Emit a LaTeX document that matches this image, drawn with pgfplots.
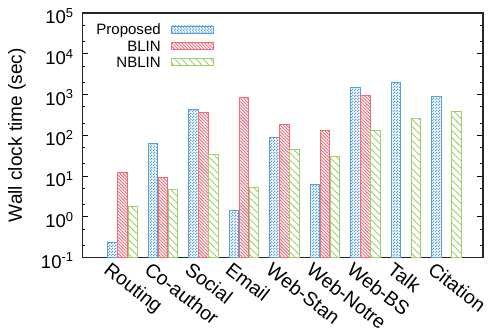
\documentclass[border=0pt]{standalone}
\usepackage{pgfplots}
\pgfplotsset{compat=1.18}
\usepackage{fontspec}
\setmainfont{Liberation Sans}
\usetikzlibrary{patterns,patterns.meta}

\definecolor{cProp}{RGB}{86,160,224}
\definecolor{cBlin}{RGB}{240,108,120}
\definecolor{cNblin}{RGB}{158,208,110}

% fine checkerboard used for the proposed method
\pgfdeclarepatternformonly{checker}{\pgfqpoint{0pt}{0pt}}{\pgfqpoint{3bp}{3bp}}{\pgfqpoint{3bp}{3bp}}{%
  \pgfpathrectangle{\pgfqpoint{0bp}{0bp}}{\pgfqpoint{1.5bp}{1.5bp}}%
  \pgfpathrectangle{\pgfqpoint{1.5bp}{1.5bp}}{\pgfqpoint{1.5bp}{1.5bp}}%
  \pgfusepath{fill}}

\begin{document}
\begin{tikzpicture}
\begin{axis}[
  width=400bp, height=244bp, scale only axis,
  ymode=log, log basis y=10,
  ymin=0.1, ymax=100000,
  log origin=infty,
  xmin=-1, xmax=8.9,
  ybar=0.6bp, bar width=9.4bp,
  xtick={0,1,2,3,4,5,6,7,8},
  xticklabels={Routing,Co-author,Social,Email,Web-Stan,Web-Notre,Web-BS,Talk,Citation},
  x tick style={draw=none},
  ytick={0.1,1,10,100,1000,10000,100000},
  yticklabels={10\textsuperscript{-1},10\textsuperscript{0},10\textsuperscript{1},10\textsuperscript{2},10\textsuperscript{3},10\textsuperscript{4},10\textsuperscript{5}},
  minor ytick={0.2,0.5,2,5,20,50,200,500,2000,5000,20000,50000},
  tick align=inside,
  major tick length=6bp, minor tick length=3bp,
  y tick style={line width=0.8bp, black},
  axis line style={line width=1.1bp, black!85},
  yticklabel style={font=\fontsize{18.5bp}{20bp}\selectfont, xshift=-5bp, yshift=-3bp},
  xticklabel style={font=\fontsize{19.5bp}{20bp}\selectfont, rotate=-38, anchor=north west, xshift=-10bp, yshift=-6bp},
  ylabel={Wall clock time (sec)},
  every axis y label/.style={at={(axis description cs:-0.1625,0.5)}, rotate=90, anchor=center,
    font=\fontsize{19bp}{20bp}\selectfont},
  clip=false,
  legend style={at={(axis description cs:0.03,0.965)}, anchor=north west, draw=none, fill=none,
    font=\fontsize{15bp}{15bp}\selectfont, row sep=0.5bp, inner sep=0pt,
    legend cell align=right},
  legend plot pos=right,
  legend image code/.code={\path (0bp,0bp); \draw[#1, line width=0.9bp] (8bp,-3bp) rectangle (50bp,4bp);},
]
\addplot[draw=cProp, line width=0.9bp, pattern=checker, pattern color=cProp]
  coordinates {(0,0.235) (1,63) (2,437) (3,1.45) (4,90) (5,6.2) (6,1490) (7,2000) (8,875)};
\addlegendentry{Proposed}
\addplot[draw=cBlin, line width=0.9bp, pattern={Lines[angle=-45,distance=2.3bp,line width=0.9bp]}, pattern color=cBlin]
  coordinates {(0,12.3) (1,9.2) (2,364) (3,850) (4,185) (5,131) (6,950)};
\addlegendentry{BLIN}
\addplot[draw=cNblin, line width=0.9bp, pattern={Lines[angle=-45,distance=5bp,line width=0.9bp]}, pattern color=cNblin]
  coordinates {(0,1.78) (1,4.7) (2,34) (3,5.2) (4,45) (5,30) (6,131) (7,258) (8,380)};
\addlegendentry{NBLIN}
\end{axis}
\pgfresetboundingbox
\path ([shift={(-82bp,-73bp)}]current axis.south west) rectangle ([shift={(5bp,13bp)}]current axis.north east);
\end{tikzpicture}
\end{document}
